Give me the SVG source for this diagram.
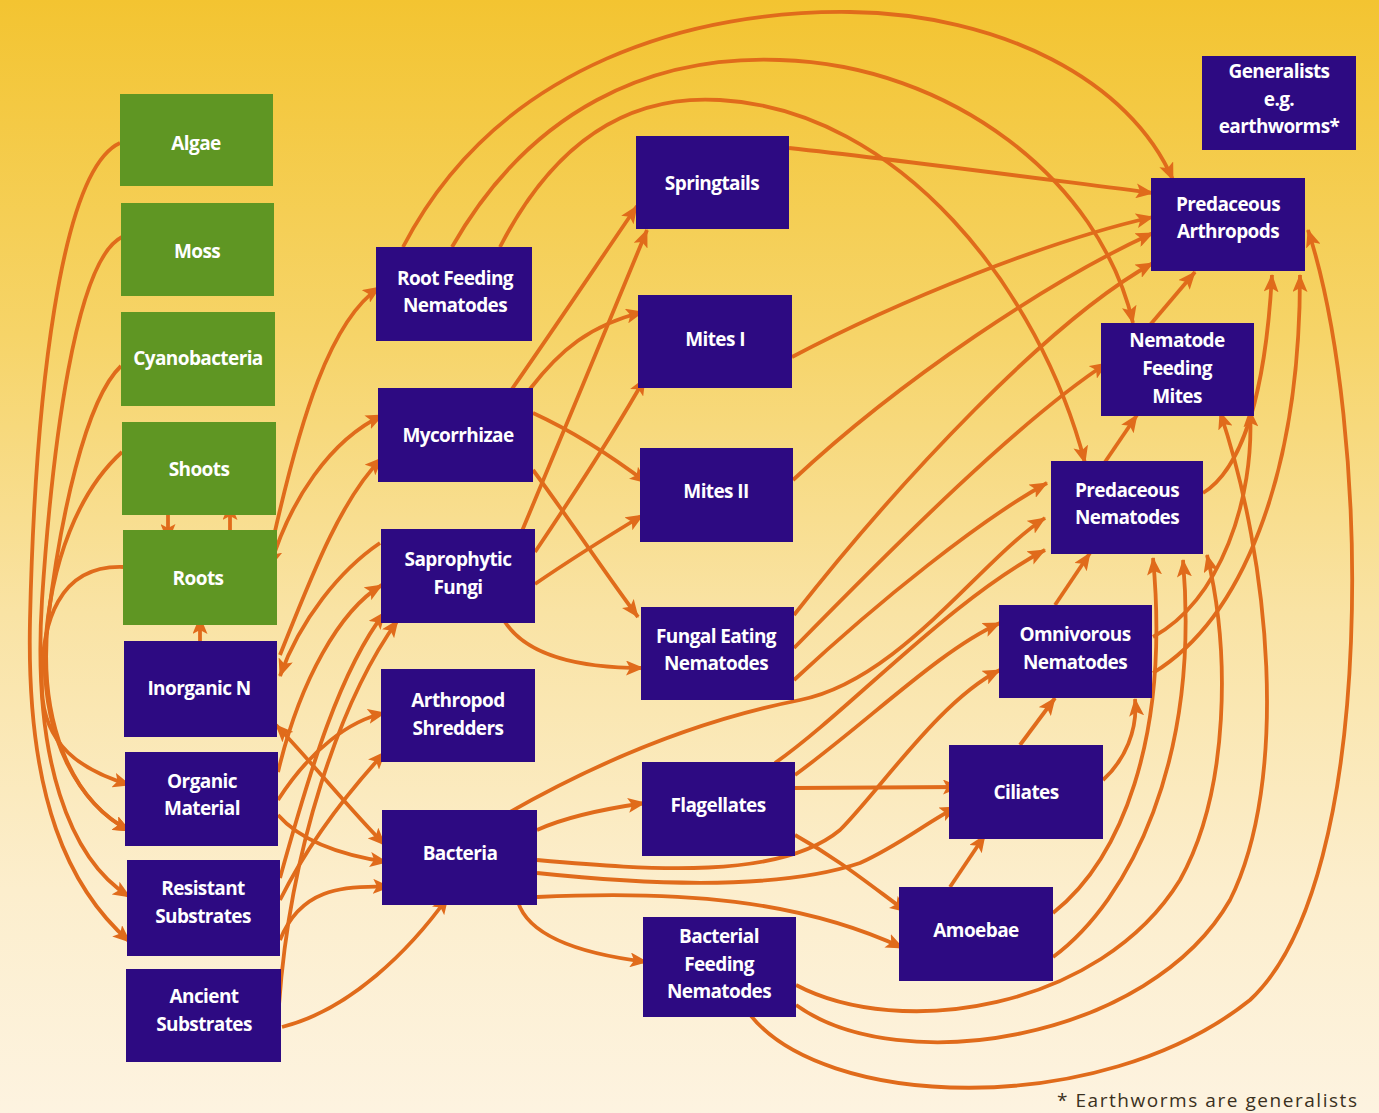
<svg xmlns="http://www.w3.org/2000/svg" width="1379" height="1113" viewBox="0 0 1379 1113">
<defs>
<linearGradient id="bg" x1="0" y1="0" x2="0" y2="1">
<stop offset="0" stop-color="#F3C431"/>
<stop offset="0.3" stop-color="#F6D468"/>
<stop offset="0.55" stop-color="#F9E3A4"/>
<stop offset="0.8" stop-color="#FCEECD"/>
<stop offset="1" stop-color="#FDF3E0"/>
</linearGradient>
<marker id="ah" markerUnits="userSpaceOnUse" markerWidth="18" markerHeight="15" viewBox="0 0 18 15" refX="17" refY="7.5" orient="auto-start-reverse">
<path d="M0,0 L18,7.5 L0,15 L4,7.5 z" fill="#E06B1B"/>
</marker>
<style>
.g{fill:#5F9623}
.p{fill:#2D0A82}
.t{fill:#FFFFFF;font-family:"Open Sans","Noto Sans",sans-serif;font-weight:700;font-size:19px;text-anchor:middle;dominant-baseline:central;letter-spacing:-0.6px}
.c path{fill:none;stroke:#E06B1B;stroke-width:3.8;marker-end:url(#ah)}
.c path.d{marker-start:url(#ah)}
.fn{fill:#3A3020;font-family:"Open Sans","Noto Sans",sans-serif;font-size:19px}
</style>
</defs>
<rect width="1379" height="1113" fill="url(#bg)"/>

<g class="c" id="connectors">
<path d="M120,143 C60,170 35,400 30,620 C26,800 70,890 130,942"/>
<path d="M122,237 C75,260 52,450 42,600 C32,760 70,860 130,897"/>
<path d="M121,366 C85,400 60,520 48,620 C38,720 70,800 130,831"/>
<path d="M122,452 C80,490 50,560 45,650 C42,740 80,805 130,831"/>
<path d="M123,567 C60,565 40,620 42,690 C44,745 80,770 130,785"/>
<path d="M168,510 L168,541"/>
<path d="M230,534 L230,503"/>
<path d="M200,650 L200,617"/>
<path d="M273,540 C300,420 330,320 380,287"/>
<path class="d" d="M383,415 C330,440 290,500 270,567"/>
<path d="M280,655 C310,580 340,500 382,458"/>
<path d="M380,543 C340,570 300,620 280,676"/>
<path class="d" d="M276,725 C310,760 350,810 385,845"/>
<path d="M278,772 C300,680 340,610 382,585"/>
<path d="M278,800 C310,750 350,720 385,713"/>
<path d="M278,815 C300,840 340,855 387,862"/>
<path d="M280,878 C310,770 340,670 385,612"/>
<path d="M280,900 C310,840 350,790 385,752"/>
<path d="M280,940 C300,890 340,885 390,887"/>
<path d="M279,1005 C290,850 340,700 398,620"/>
<path d="M282,1027 C350,1010 410,950 448,897"/>
<path d="M512,389 C560,320 600,260 637,206"/>
<path d="M530,389 C560,350 590,325 643,312"/>
<path d="M522,531 C560,440 610,320 647,230"/>
<path d="M535,552 C570,500 610,440 645,378"/>
<path d="M533,413 C570,430 610,455 647,483"/>
<path d="M533,470 C570,520 610,580 638,617"/>
<path d="M535,584 C570,560 610,535 643,515"/>
<path d="M505,622 C530,660 590,668 643,668"/>
<path d="M537,830 C570,815 610,808 645,803"/>
<path d="M518,902 C530,940 590,955 647,962"/>
<path d="M403,247 C500,60 700,10 850,12 C1000,14 1130,80 1173,180"/>
<path d="M452,247 C530,110 650,55 780,60 C950,65 1100,180 1133,323"/>
<path d="M500,247 C560,130 640,95 720,100 C900,110 1040,290 1085,463"/>
<path d="M789,148 C900,160 1050,180 1153,193"/>
<path d="M792,357 C900,300 1050,240 1153,217"/>
<path d="M793,480 C900,380 1050,280 1153,233"/>
<path d="M794,615 C900,480 1050,320 1153,263"/>
<path d="M794,648 C900,540 1020,420 1107,363"/>
<path d="M794,680 C880,600 980,520 1047,483"/>
<path d="M503,816 C600,760 700,720 800,700 C900,680 980,560 1045,518"/>
<path d="M775,763 C850,710 950,600 1045,550"/>
<path d="M795,775 C870,720 940,650 1000,623"/>
<path d="M537,860 C650,870 780,880 840,830 C880,790 940,700 1000,670"/>
<path d="M537,873 C650,885 780,890 860,863 C900,845 930,820 957,807"/>
<path d="M537,897 C680,890 800,900 903,948"/>
<path d="M795,788 L960,787"/>
<path d="M795,835 C840,860 870,885 907,912"/>
<path d="M950,887 L985,835"/>
<path d="M1020,745 L1055,698"/>
<path d="M1055,605 L1090,553"/>
<path d="M1105,462 L1137,415"/>
<path d="M1150,325 L1195,272"/>
<path d="M1103,780 C1125,760 1138,730 1135,699"/>
<path d="M1203,493 C1240,470 1265,400 1272,275"/>
<path d="M1153,637 C1220,600 1255,500 1250,410"/>
<path d="M1153,673 C1240,620 1300,480 1300,275"/>
<path d="M1053,913 C1120,860 1170,740 1153,558"/>
<path d="M1053,957 C1130,900 1200,760 1183,560"/>
<path d="M796,985 C900,1040 1100,1010 1180,880 C1230,790 1230,650 1207,555"/>
<path d="M796,1005 C900,1080 1150,1040 1230,900 C1290,780 1270,560 1220,412"/>
<path d="M748,1012 C820,1110 1100,1120 1250,1000 C1380,880 1370,420 1308,230"/>
</g>

<g id="algae"><rect class="g" x="120" y="94" width="153" height="92"/><text class="t" x="196" y="143">Algae</text></g>
<g id="moss"><rect class="g" x="121" y="203" width="153" height="93"/><text class="t" x="197" y="251">Moss</text></g>
<g id="cyanobacteria"><rect class="g" x="121" y="312" width="154" height="94"/><text class="t" x="198" y="358">Cyanobacteria</text></g>
<g id="shoots"><rect class="g" x="122" y="422" width="154" height="93"/><text class="t" x="199" y="469">Shoots</text></g>
<g id="roots"><rect class="g" x="123" y="530" width="154" height="95"/><text class="t" x="198" y="578">Roots</text></g>

<g id="inorganic-n"><rect class="p" x="124" y="641" width="153" height="96"/><text class="t" x="199" y="688">Inorganic N</text></g>
<g id="organic-material"><rect class="p" x="125" y="752" width="153" height="94"/><text class="t" x="202" y="781">Organic</text><text class="t" x="202" y="808">Material</text></g>
<g id="resistant-substrates"><rect class="p" x="127" y="860" width="153" height="96"/><text class="t" x="203" y="888">Resistant</text><text class="t" x="203" y="916">Substrates</text></g>
<g id="ancient-substrates"><rect class="p" x="126" y="969" width="155" height="93"/><text class="t" x="204" y="996">Ancient</text><text class="t" x="204" y="1024">Substrates</text></g>

<g id="root-feeding-nematodes"><rect class="p" x="376" y="247" width="156" height="94"/><text class="t" x="455" y="278">Root Feeding</text><text class="t" x="455" y="305">Nematodes</text></g>
<g id="mycorrhizae"><rect class="p" x="378" y="388" width="155" height="94"/><text class="t" x="458" y="435">Mycorrhizae</text></g>
<g id="saprophytic-fungi"><rect class="p" x="381" y="529" width="154" height="94"/><text class="t" x="458" y="559">Saprophytic</text><text class="t" x="458" y="587">Fungi</text></g>
<g id="arthropod-shredders"><rect class="p" x="381" y="669" width="154" height="93"/><text class="t" x="458" y="700">Arthropod</text><text class="t" x="458" y="728">Shredders</text></g>
<g id="bacteria"><rect class="p" x="382" y="810" width="155" height="95"/><text class="t" x="460" y="853">Bacteria</text></g>

<g id="springtails"><rect class="p" x="636" y="136" width="153" height="93"/><text class="t" x="712" y="183">Springtails</text></g>
<g id="mites-i"><rect class="p" x="638" y="295" width="154" height="93"/><text class="t" x="715" y="339">Mites I</text></g>
<g id="mites-ii"><rect class="p" x="640" y="448" width="153" height="94"/><text class="t" x="716" y="491">Mites II</text></g>
<g id="fungal-eating-nematodes"><rect class="p" x="641" y="607" width="153" height="93"/><text class="t" x="716" y="636">Fungal Eating</text><text class="t" x="716" y="663">Nematodes</text></g>
<g id="flagellates"><rect class="p" x="642" y="762" width="153" height="94"/><text class="t" x="718" y="805">Flagellates</text></g>
<g id="bacterial-feeding-nematodes"><rect class="p" x="643" y="917" width="153" height="100"/><text class="t" x="719" y="936">Bacterial</text><text class="t" x="719" y="964">Feeding</text><text class="t" x="719" y="991">Nematodes</text></g>

<g id="ciliates"><rect class="p" x="949" y="745" width="154" height="94"/><text class="t" x="1026" y="792">Ciliates</text></g>
<g id="amoebae"><rect class="p" x="899" y="887" width="154" height="94"/><text class="t" x="976" y="930">Amoebae</text></g>
<g id="omnivorous-nematodes"><rect class="p" x="999" y="605" width="153" height="93"/><text class="t" x="1075" y="634">Omnivorous</text><text class="t" x="1075" y="662">Nematodes</text></g>
<g id="predaceous-nematodes"><rect class="p" x="1051" y="461" width="152" height="93"/><text class="t" x="1127" y="490">Predaceous</text><text class="t" x="1127" y="517">Nematodes</text></g>
<g id="nematode-feeding-mites"><rect class="p" x="1101" y="323" width="153" height="93"/><text class="t" x="1177" y="340">Nematode</text><text class="t" x="1177" y="368">Feeding</text><text class="t" x="1177" y="396">Mites</text></g>
<g id="predaceous-arthropods"><rect class="p" x="1151" y="178" width="154" height="93"/><text class="t" x="1228" y="204">Predaceous</text><text class="t" x="1228" y="231">Arthropods</text></g>
<g id="generalists"><rect class="p" x="1202" y="56" width="154" height="94"/><text class="t" x="1279" y="71">Generalists</text><text class="t" x="1279" y="99">e.g.</text><text class="t" x="1279" y="126">earthworms*</text></g>

<text class="fn" x="1057" y="1107" textLength="300" lengthAdjust="spacing">* Earthworms are generalists</text>
</svg>
